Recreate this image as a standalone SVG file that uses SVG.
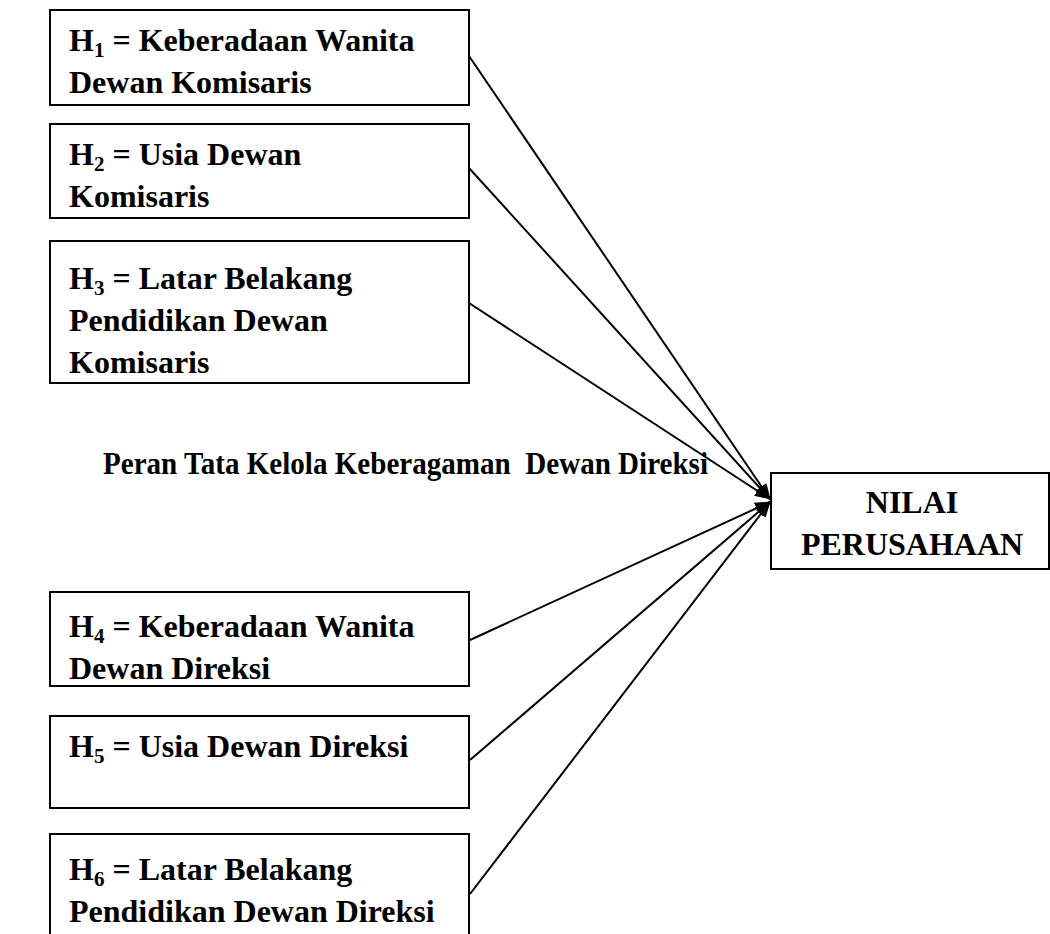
<svg xmlns="http://www.w3.org/2000/svg" width="1050" height="934" viewBox="0 0 1050 934">
<style>
.box{fill:#fff;stroke:#000;stroke-width:2}
.t{font-family:"Liberation Serif","Times New Roman",serif;font-weight:bold;font-size:32px;fill:#000}
.sub{font-size:21px}
.c{stroke:#000;stroke-width:2;fill:none;marker-end:url(#ah)}
</style>
<defs>
<marker id="ah" markerUnits="userSpaceOnUse" markerWidth="16" markerHeight="14" refX="15" refY="7" orient="auto">
<path d="M0,1 L16,7 L0,13 Z" fill="#000"/>
</marker>
</defs>
<rect width="1050" height="934" fill="#fff"/>
<g id="connectors">
<line class="c" x1="469" y1="56" x2="770" y2="499"/>
<line class="c" x1="469" y1="168" x2="770" y2="499"/>
<line class="c" x1="469" y1="303" x2="770" y2="499"/>
<line class="c" x1="470" y1="640" x2="770" y2="502"/>
<line class="c" x1="470" y1="760" x2="770" y2="502"/>
<line class="c" x1="470" y1="894" x2="770" y2="502"/>
</g>
<g id="h1">
<rect class="box" x="50" y="10" width="419" height="95"/>
<text class="t" x="69" y="51">H<tspan class="sub" dy="6">1</tspan><tspan dy="-6"> = Keberadaan Wanita</tspan></text>
<text class="t" x="69" y="93">Dewan Komisaris</text>
</g>
<g id="h2">
<rect class="box" x="50" y="124" width="419" height="94"/>
<text class="t" x="69" y="165">H<tspan class="sub" dy="6">2</tspan><tspan dy="-6"> = Usia Dewan</tspan></text>
<text class="t" x="69" y="207">Komisaris</text>
</g>
<g id="h3">
<rect class="box" x="50" y="241" width="419" height="142"/>
<text class="t" x="69" y="289">H<tspan class="sub" dy="6">3</tspan><tspan dy="-6"> = Latar Belakang</tspan></text>
<text class="t" x="69" y="331">Pendidikan Dewan</text>
<text class="t" x="69" y="373">Komisaris</text>
</g>
<g id="label">
<text class="t" x="103" y="474" xml:space="preserve" textLength="605" lengthAdjust="spacingAndGlyphs">Peran Tata Kelola Keberagaman  Dewan Direksi</text>
</g>
<g id="nilai">
<rect class="box" x="771" y="473" width="278" height="96"/>
<text class="t" x="912" y="513" text-anchor="middle">NILAI</text>
<text class="t" x="912" y="555" text-anchor="middle">PERUSAHAAN</text>
</g>
<g id="h4">
<rect class="box" x="50" y="592" width="419" height="94"/>
<text class="t" x="69" y="637">H<tspan class="sub" dy="6">4</tspan><tspan dy="-6"> = Keberadaan Wanita</tspan></text>
<text class="t" x="69" y="679">Dewan Direksi</text>
</g>
<g id="h5">
<rect class="box" x="50" y="716" width="419" height="92"/>
<text class="t" x="69" y="757">H<tspan class="sub" dy="6">5</tspan><tspan dy="-6"> = Usia Dewan Direksi</tspan></text>
</g>
<g id="h6">
<rect class="box" x="50" y="834" width="419" height="110"/>
<text class="t" x="69" y="880">H<tspan class="sub" dy="6">6</tspan><tspan dy="-6"> = Latar Belakang</tspan></text>
<text class="t" x="69" y="922">Pendidikan Dewan Direksi</text>
</g>
</svg>
